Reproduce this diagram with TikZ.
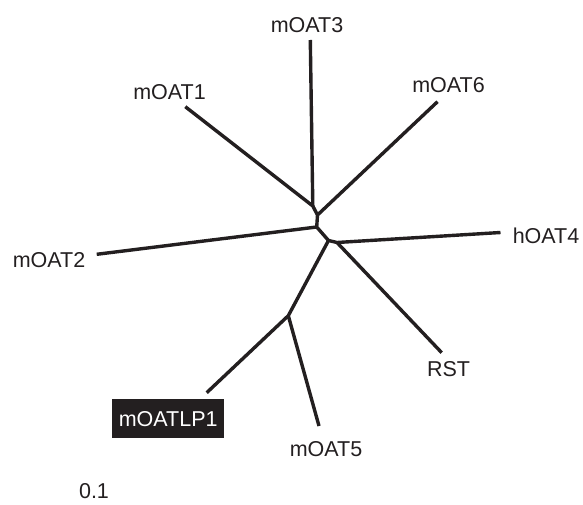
\documentclass[tikz,border=0pt]{standalone}
\usepackage{fontspec}
\setmainfont{Liberation Sans}
\usepackage{tikz}
\usetikzlibrary{positioning}
\usetikzlibrary{calc}
\definecolor{inkblack}{RGB}{35,31,32}

\begin{document}
\begin{tikzpicture}[x=1pt, y=-1pt,
	every node/.style={inner sep=0pt, text=inkblack, font=\fontsize{21.5}{26}\selectfont},
	branch/.style={line width=3.4pt, draw=inkblack, line join=round}]
\useasboundingbox (0,0) rectangle (583,505);

% inner forks
\coordinate (join0) at (312.8,206);
\coordinate (join1) at (317.5,215);
\coordinate (join2) at (316.7,227);
\coordinate (join3) at (328.5,240.5);
\coordinate (join4) at (337,242.5);
\coordinate (join5) at (288.3,315.7);

% branch tips
\coordinate (leaf0) at (310.3,40);
\coordinate (leaf1) at (185.3,106.7);
\coordinate (leaf2) at (437.5,101.7);
\coordinate (leaf3) at (96.7,254.3);
\coordinate (leaf4) at (500.5,232.5);
\coordinate (leaf5) at (441.7,352.7);
\coordinate (leaf6) at (319,426);
\coordinate (leaf7) at (206.7,392.7);

\node (name0) at ($(leaf0)+(-3.3,-14.7)$) {mOAT3};
\node (name1) at ($(leaf1)+(-15.8,-14.7)$) {mOAT1};
\node (name2) at ($(leaf2)+(11,-16.7)$) {mOAT6};
\node (name3) at ($(leaf3)+(-47.7,5.7)$) {mOAT2};
\node (name4) at ($(leaf4)+(45.5,3)$) {hOAT4};
\node (name5) at ($(leaf5)+(6.8,16.3)$) {RST};
\node (name6) at ($(leaf6)+(7,22.7)$) {mOAT5};
\node[fill=inkblack, text=white, inner xsep=6.6pt, inner ysep=11.8pt] (name7) at ($(leaf7)+(-38.5,26.1)$) {mOATLP1};

\node (scale) at (94,491) {0.1};

\draw[branch] (leaf1) -- (join0) -- (join1) -- (join2) -- (join3) -- (join4) -- (leaf4);
\draw[branch] (join0) -- (leaf0);
\draw[branch] (join1) -- (leaf2);
\draw[branch] (join2) -- (leaf3);
\draw[branch] (join4) -- (leaf5);
\draw[branch] (join3) -- (join5) -- (leaf7);
\draw[branch] (join5) -- (leaf6);
\end{tikzpicture}
\end{document}
